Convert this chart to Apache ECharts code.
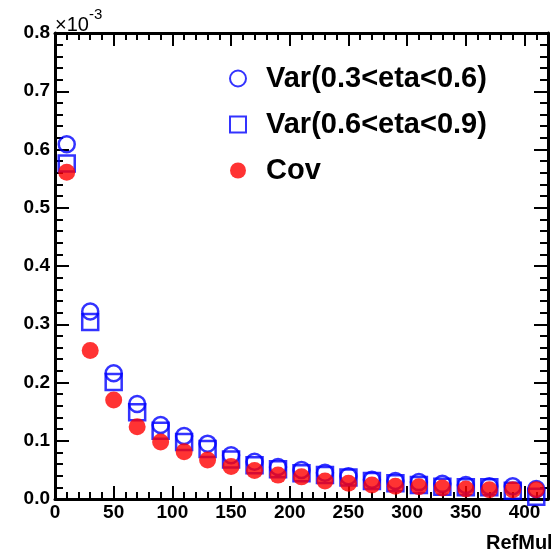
<!DOCTYPE html>
<html>
<head>
<meta charset="utf-8">
<script src="https://cdn.jsdelivr.net/npm/echarts@6/dist/echarts.min.js"></script>
<style>
html,body{margin:0;padding:0;background:#fff;}
#chart{width:551px;height:554px;}
</style>
</head>
<body>
<div id="chart"></div>
<script>
// RefMult bin centres
const refMult = [10,30,50,70,90,110,130,150,170,190,210,230,250,270,290,310,330,350,370,390,410];
// values in units of 1e-3
const varLow = [0.609,0.322,0.216,0.163,0.127,0.108,0.095,0.075,0.064,0.055,0.050,0.045,0.039,0.033,0.031,0.029,0.026,0.024,0.022,0.022,0.017];
const varHigh = [0.576,0.304,0.201,0.149,0.117,0.098,0.086,0.068,0.058,0.051,0.044,0.041,0.037,0.031,0.027,0.024,0.021,0.020,0.020,0.014,0.004];
const cov = [0.561,0.255,0.170,0.124,0.098,0.081,0.067,0.056,0.049,0.041,0.038,0.031,0.027,0.024,0.022,0.021,0.019,0.017,0.016,0.016,0.016];
const seriesNames = ['Var(0.3<eta<0.6)','Var(0.6<eta<0.9)','Cov'];

const pair = (ys) => refMult.map((x,i)=>[x, ys[i]]);
const FONT = '"Liberation Sans", Arial, Helvetica, sans-serif';

const chart = echarts.init(document.getElementById('chart'), null, {renderer:'canvas'});
const axisLine = {show:true, onZero:false, lineStyle:{color:'#000', width:3}};
const xTickFmt = v => (v > 400 ? '' : String(v));

chart.setOption({
  backgroundColor:'#fff',
  animation:false,
  grid:{left:55, top:33, right:-2, bottom:55},
  xAxis:[
    {type:'value', min:0, max:420, interval:50, position:'bottom',
     axisLine:axisLine,
     axisTick:{show:true, inside:true, length:13, lineStyle:{color:'#000', width:2}},
     minorTick:{show:true, splitNumber:5, length:7, lineStyle:{color:'#000', width:2}},
     axisLabel:{show:true, margin:4, color:'#000', fontFamily:FONT, fontWeight:'bold', fontSize:19, formatter:xTickFmt},
     splitLine:{show:false}},
    {type:'value', min:0, max:420, interval:50, position:'top',
     axisLine:axisLine,
     axisTick:{show:true, inside:true, length:13, lineStyle:{color:'#000', width:2}},
     minorTick:{show:true, splitNumber:5, length:7, lineStyle:{color:'#000', width:2}},
     axisLabel:{show:false}, splitLine:{show:false}}
  ],
  yAxis:[
    {type:'value', min:0, max:0.8, interval:0.1, position:'left',
     axisLine:axisLine,
     axisTick:{show:true, inside:true, length:14, lineStyle:{color:'#000', width:2}},
     minorTick:{show:true, splitNumber:5, length:8, lineStyle:{color:'#000', width:2}},
     axisLabel:{show:true, margin:5, color:'#000', fontFamily:FONT, fontWeight:'bold', fontSize:19, formatter:v=>v.toFixed(1)},
     splitLine:{show:false}},
    {type:'value', min:0, max:0.8, interval:0.1, position:'right',
     axisLine:axisLine,
     axisTick:{show:true, inside:true, length:14, lineStyle:{color:'#000', width:2}},
     minorTick:{show:true, splitNumber:5, length:8, lineStyle:{color:'#000', width:2}},
     axisLabel:{show:false}, splitLine:{show:false}}
  ],
  legend:{
    orient:'vertical', left:224, top:59,
    itemWidth:16, itemHeight:16, itemGap:17,
    textStyle:{color:'#000', fontFamily:FONT, fontWeight:'bold', fontSize:29, lineHeight:29, padding:[0,0,0,15]},
    data:[
      {name:seriesNames[0], icon:'circle'},
      {name:seriesNames[1], icon:'rect'},
      {name:seriesNames[2], icon:'circle'}
    ]
  },
  graphic:[
    {type:'text', left:55, top:7, style:{
      text:'{a|×10}{b|-3}', rich:{
        a:{fontFamily:FONT, fontSize:20, fill:'#000', padding:[12,0,0,0]},
        b:{fontFamily:FONT, fontSize:15, fill:'#000', padding:[0,0,10,0]}
      }}},
    {type:'text', left:486, top:533, style:{text:'RefMult', fontFamily:FONT, fontWeight:'bold', fontSize:20, fill:'#000'}}
  ],
  series:[
    {name:seriesNames[0], type:'scatter', symbol:'circle', symbolSize:16,
     itemStyle:{color:'rgba(0,0,0,0)', borderColor:'#0000ff', borderWidth:2.5},
     data:pair(varLow)},
    {name:seriesNames[1], type:'scatter', symbol:'rect', symbolSize:16,
     itemStyle:{color:'rgba(0,0,0,0)', borderColor:'#0000ff', borderWidth:2.5},
     data:pair(varHigh)},
    {name:seriesNames[2], type:'scatter', symbol:'circle', symbolSize:17,
     itemStyle:{color:'#ff0000', borderWidth:0},
     data:pair(cov)}
  ]
});
</script>
</body>
</html>
